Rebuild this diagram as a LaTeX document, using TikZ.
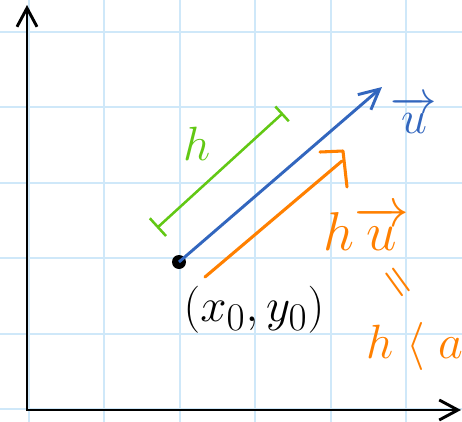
\documentclass[tikz,border=0pt]{standalone}
\usepackage{amsmath,amssymb}
\usepackage{tikz}
\usetikzlibrary{arrows.meta,positioning,calc}
\usepackage{xcolor}
\definecolor{gridblue}{RGB}{207,232,249}
\definecolor{vecblue}{RGB}{50,102,190}
\definecolor{hgreen}{RGB}{98,200,20}
\definecolor{horange}{RGB}{255,128,0}

\begin{document}
\begin{tikzpicture}[x=0.75pt,y=-0.75pt,
  gridline/.style={gridblue,line width=1.5pt},
  axis/.style={line width=2.2pt,{Straight Barb[length=14pt,width=15pt]}-{Straight Barb[length=14pt,width=15pt]}},
  vec/.style={vecblue,line width=2.2pt,-{Straight Barb[length=15pt,width=15pt]}},
  hbar/.style={hgreen,line width=1.9pt,{Bar[width=18pt]}-{Bar[width=15pt]}},
  stroke/.style={horange,line width=2.3pt,line cap=round,line join=round},
  lab/.style={inner sep=0pt,anchor=base,font=\Huge}]
\clip (0,0) rectangle (462,422);
\fill[white] (0,0) rectangle (462,422);
\foreach \k in {0,...,5} {
  \draw[gridline] ({29+75.4*\k},0) -- ({29+75.4*\k},422);
  \draw[gridline] (0,{32+75.4*\k}) -- (462,{32+75.4*\k});
}
\coordinate (O) at (27,410);
\coordinate (ytop) at (27,5);
\coordinate (xend) at (461,410);
\draw[axis] (ytop) -- (O) -- (xend);

\node[circle,fill,inner sep=0pt,minimum size=10.5pt] (P0) at (179,262) {};
\coordinate (utip) at (382,87);
\draw[vec] (P0.center) -- (utip);
\node[lab,vecblue,scale=1.4] (ulab) at (414,133) {$\overrightarrow{u}$};

\coordinate (gA) at (157,228);
\coordinate (gB) at (283,113);
\draw[hbar] (gA) -- (gB);
\node[lab,hgreen,scale=1.45] (hlab) at (197,160) {$h$};

\coordinate (oA) at (205,277);
\coordinate (oB) at (342,161);
\coordinate (oL) at (320,152);
\coordinate (oT) at (343,151);
\coordinate (oD) at (347,187);
\draw[stroke] (oA) -- (oB);
\draw[stroke] (oL) -- (oT) -- (oD);
\node[lab,horange,scale=1.65] (hulab) at (366,250) {$h\overrightarrow{u}$};
\node[horange,inner sep=0pt,rotate=-54,font=\Huge,scale=1.15] (eq) at (396,284) {$\boldsymbol{=}$};
\node[lab,anchor=base west,horange,scale=1.45] (hvec) at (366,358) {$h\;\langle\;a$};

\node[inner sep=0pt,font=\Huge,scale=1.42] (plab) at (254,310) {$(x_0,y_0)$};
\end{tikzpicture}
\end{document}
